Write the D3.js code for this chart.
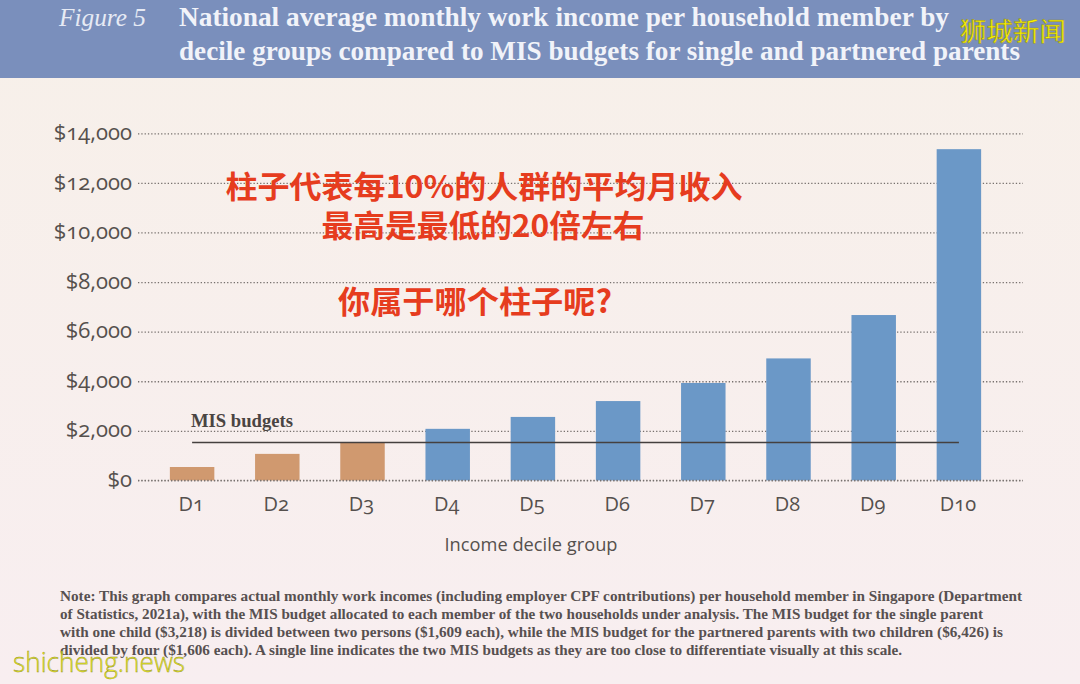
<!DOCTYPE html>
<html>
<head>
<meta charset="utf-8">
<script src="https://cdn.jsdelivr.net/npm/d3@7"></script>
<style>
  html, body { margin: 0; padding: 0; background: #f7f0ec; }
  svg { display: block; }
  .axis text { font-family: "Open Sans", sans-serif; font-feature-settings: "onum" 1, "lnum" 0; fill: #55504d; }
  .axis .domain { display: none; }
</style>
</head>
<body>
<div id="chart"></div>
<script>
// values
var deciles = ["D1", "D2", "D3", "D4", "D5", "D6", "D7", "D8", "D9", "D10"];
var incomes = [540, 1070, 1530, 2080, 2560, 3200, 3930, 4920, 6670, 13360];
var lowGroups = ["D1", "D2", "D3"];
var yTicks = [0, 2000, 4000, 6000, 8000, 10000, 12000, 14000];
var misBudget = 1530;
var titleLines = [
  "National average monthly work income per household member by",
  "decile groups compared to MIS budgets for single and partnered parents"
];
var noteLines = [
  "Note: This graph compares actual monthly work incomes (including employer CPF contributions) per household member in Singapore (Department",
  "of Statistics, 2021a), with the MIS budget allocated to each member of the two households under analysis. The MIS budget for the single parent",
  "with one child ($3,218) is divided between two persons ($1,609 each), while the MIS budget for the partnered parents with two children ($6,426) is",
  "divided by four ($1,606 each). A single line indicates the two MIS budgets as they are too close to differentiate visually at this scale."
];
var overlayLines = ["柱子代表每10%的人群的平均月收入", "最高是最低的20倍左右", "你属于哪个柱子呢?"];

var width = 1080, height = 684;

var svg = d3.select("#chart").append("svg")
  .attr("width", width)
  .attr("height", height);

var defs = svg.append("defs");
var bg = defs.append("linearGradient").attr("id", "bg").attr("x1", 0).attr("y1", 0).attr("x2", 0).attr("y2", 1);
bg.append("stop").attr("offset", "0%").attr("stop-color", "#f7f0e9");
bg.append("stop").attr("offset", "100%").attr("stop-color", "#f8eef0");

svg.append("rect").attr("width", width).attr("height", height).attr("fill", "url(#bg)");

// header band
svg.append("rect").attr("width", width).attr("height", 78).attr("fill", "#7a8fbc");
svg.append("text")
  .attr("x", 59).attr("y", 26)
  .attr("font-family", "Liberation Serif, serif")
  .attr("font-style", "italic")
  .attr("font-size", 26)
  .attr("fill", "#e6eaf4")
  .attr("textLength", 87).attr("lengthAdjust", "spacingAndGlyphs")
  .text("Figure 5");

var titleEnds = [770, 841];
svg.selectAll(".title").data(titleLines).enter().append("text")
  .attr("class", "title")
  .attr("x", 179)
  .attr("y", function (d, i) { return 26 + i * 34; })
  .attr("font-family", "Liberation Serif, serif")
  .attr("font-weight", "bold")
  .attr("font-size", 27)
  .attr("fill", "#f1f3f9")
  .attr("textLength", function (d, i) { return titleEnds[i]; })
  .attr("lengthAdjust", "spacingAndGlyphs")
  .text(function (d) { return d; });

var x = d3.scaleBand()
  .domain(deciles)
  .range([149.5, 1001.5])
  .paddingInner(0.478)
  .paddingOuter(0.239);

var y = d3.scaleLinear().domain([0, 14000]).range([480.4, 133.3]);

var gY = svg.append("g")
  .attr("class", "axis y")
  .attr("transform", "translate(138,0)")
  .call(d3.axisLeft(y).tickValues(yTicks).tickFormat(d3.format("$,")).tickSize(-885).tickPadding(6));
gY.selectAll("line")
  .attr("stroke", "#77716e")
  .attr("stroke-width", 1.3)
  .attr("stroke-dasharray", "1.3 2");
gY.selectAll("text").attr("font-size", 22).attr("dy", "0.28em");

svg.selectAll(".bar").data(incomes).enter().append("rect")
  .attr("class", "bar")
  .attr("x", function (d, i) { return x(deciles[i]); })
  .attr("y", function (d) { return y(d); })
  .attr("width", x.bandwidth())
  .attr("height", function (d) { return y(0) - y(d); })
  .attr("fill", function (d, i) { return lowGroups.indexOf(deciles[i]) >= 0 ? "#d0996f" : "#6b98c7"; });

// gridline at zero shows over the bar feet in the original
svg.append("line")
  .attr("x1", 138).attr("x2", 1023)
  .attr("y1", y(0)).attr("y2", y(0))
  .attr("stroke", "#77716e").attr("stroke-width", 1.3).attr("stroke-dasharray", "1.3 2");

var gX = svg.append("g")
  .attr("class", "axis x")
  .attr("transform", "translate(-1," + y(0) + ")")
  .call(d3.axisBottom(x).tickSize(0).tickPadding(16));
gX.selectAll("text").attr("font-size", 20);

// MIS budget line
svg.append("line")
  .attr("x1", x("D1") + x.bandwidth() / 2)
  .attr("x2", x("D10") + x.bandwidth() / 2)
  .attr("y1", y(misBudget)).attr("y2", y(misBudget))
  .attr("stroke", "#45403f").attr("stroke-width", 1.5);

svg.append("text")
  .attr("x", 191).attr("y", 427)
  .attr("font-family", "Liberation Serif, serif")
  .attr("font-weight", "bold")
  .attr("font-size", 19)
  .attr("fill", "#4a4442")
  .attr("textLength", 102).attr("lengthAdjust", "spacingAndGlyphs")
  .text("MIS budgets");

svg.append("text")
  .attr("x", 531).attr("y", 551)
  .attr("text-anchor", "middle")
  .attr("font-family", "Open Sans, sans-serif")
  .attr("font-size", 18.5)
  .attr("fill", "#55504d")
  .attr("textLength", 173).attr("lengthAdjust", "spacingAndGlyphs")
  .text("Income decile group");

// note under the chart
var noteWidths = [962, 923, 943, 842];
svg.selectAll(".note").data(noteLines).enter().append("text")
  .attr("class", "note")
  .attr("x", 60)
  .attr("y", function (d, i) { return 601 + i * 18.1; })
  .attr("font-family", "Liberation Serif, serif")
  .attr("font-weight", "bold")
  .attr("font-size", 14.5)
  .attr("fill", "#575050")
  .attr("textLength", function (d, i) { return noteWidths[i]; })
  .attr("lengthAdjust", "spacingAndGlyphs")
  .text(function (d) { return d; });

// red overlay text
var overlayX = [484, 483, 475];
var overlayY = [198, 237, 313];
var overlayWidths = [517, 323, 274];
svg.selectAll(".overlay").data(overlayLines).enter().append("text")
  .attr("class", "overlay")
  .attr("x", function (d, i) { return overlayX[i]; })
  .attr("y", function (d, i) { return overlayY[i]; })
  .attr("text-anchor", "middle")
  .attr("font-family", "Noto Sans CJK SC, sans-serif")
  .attr("font-weight", "700")
  .attr("font-size", 31)
  .attr("fill", "#e63c1e")
  .attr("textLength", function (d, i) { return overlayWidths[i]; })
  .attr("lengthAdjust", "spacingAndGlyphs")
  .text(function (d) { return d; });

// watermarks
svg.append("text")
  .attr("x", 960).attr("y", 41)
  .attr("font-family", "Noto Sans CJK SC, sans-serif")
  .attr("font-size", 26)
  .attr("fill", "#f8f000")
  .attr("stroke", "#8f8a30").attr("stroke-width", 0.5)
  .attr("textLength", 106).attr("lengthAdjust", "spacingAndGlyphs")
  .text("狮城新闻");

svg.append("text")
  .attr("x", 13).attr("y", 672)
  .attr("font-family", "Open Sans, sans-serif")
  .attr("font-weight", 300)
  .attr("font-size", 27)
  .attr("fill", "#e8e82a")
  .attr("stroke", "#8c8c20").attr("stroke-width", 0.4)
  .attr("textLength", 172).attr("lengthAdjust", "spacingAndGlyphs")
  .text("shicheng.news");
</script>
</body>
</html>
